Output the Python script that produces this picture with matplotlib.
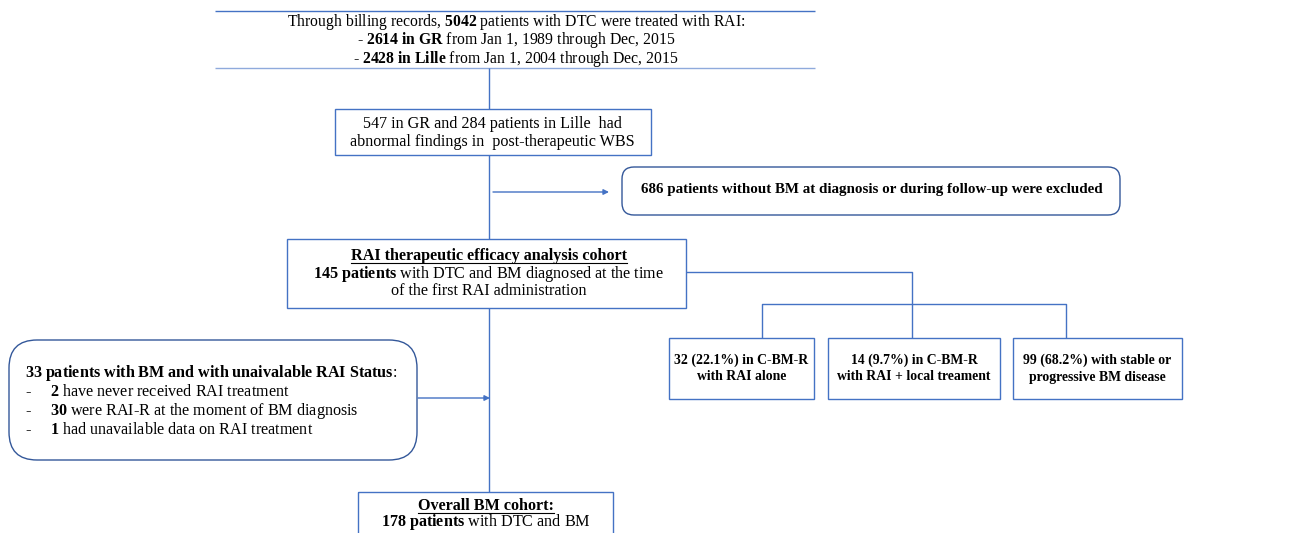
import matplotlib
matplotlib.use("Agg")
import matplotlib.pyplot as plt
from matplotlib.patches import Rectangle, FancyBboxPatch

plt.rcParams['font.family'] = ['Liberation Serif', 'DejaVu Serif']
plt.rcParams['mathtext.fontset'] = 'custom'
plt.rcParams['mathtext.rm'] = 'Liberation Serif'
plt.rcParams['mathtext.bf'] = 'Liberation Serif:bold'
plt.rcParams['mathtext.it'] = 'Liberation Serif:italic'

# flowchart content
total_patients = 5042
gr_patients = 2614
lille_patients = 2428
wbs_gr = 547
wbs_lille = 284
excluded = 686
rai_cohort = 145
unavailable = 33
unavailable_items = [2, 30, 1]
overall_cohort = 178
outcome_counts = [32, 14, 99]
outcome_pcts = [22.1, 9.7, 68.2]

top_lines = [
    rf"Through billing records, $\mathbf{{{total_patients}}}$ patients with DTC were treated with RAI:",
    rf"- $\mathbf{{{gr_patients}\ in\ GR}}$ from Jan 1, 1989 through Dec, 2015",
    rf"- $\mathbf{{{lille_patients}\ in\ Lille}}$ from Jan 1, 2004 through Dec, 2015",
]
wbs_lines = [
    f"{wbs_gr} in GR and {wbs_lille} patients in Lille  had",
    "abnormal findings in  post-therapeutic WBS",
]
excl_text = f"{excluded} patients without BM at diagnosis or during follow-up were excluded"
rai_lines = [
    "RAI therapeutic efficacy analysis cohort",
    rf"$\mathbf{{{rai_cohort}\ patients}}$ with DTC and BM diagnosed at the time",
    "of the first RAI administration",
]
unav_title = rf"$\mathbf{{{unavailable}\ patients\ with\ BM\ and\ with\ unaivalable\ RAI\ Status}}$:"
unav_items = [
    "have never received RAI treatment",
    "were RAI-R at the moment of BM diagnosis",
    "had unavailable data on RAI treatment",
]
outcome_labels = [
    "in C-BM-R\nwith RAI alone",
    "in C-BM-R\nwith RAI + local treament",
    "with stable or\nprogressive BM disease",
]
overall_lines = [
    "Overall BM cohort:",
    rf"$\mathbf{{{overall_cohort}\ patients}}$ with DTC and BM",
]

BLUE = '#4472C4'
LIGHT = '#8FAADC'
NAVY = '#34589A'
FS = 11.6

fig = plt.figure(figsize=(13.09, 5.33), dpi=100)
ax = fig.add_axes([0, 0, 1, 1])
ax.set_xlim(0, 1309)
ax.set_ylim(533, 0)
ax.axis('off')


def box(x0, y0, x1, y1, ec=BLUE, lw=1.0):
    ax.add_patch(Rectangle((x0, y0), x1 - x0, y1 - y0, fill=False, ec=ec, lw=lw))


def rbox(x0, y0, x1, y1, r, ec=NAVY):
    ax.add_patch(FancyBboxPatch((x0, y0), x1 - x0, y1 - y0,
                                boxstyle=f"round,pad=0,rounding_size={r}",
                                fill=False, ec=ec, lw=1.0))


def line(xs, ys, c=BLUE):
    ax.plot(xs, ys, color=c, lw=1.0, solid_capstyle='butt')


def arrow(x0, x1, y):
    ax.annotate('', xy=(x1, y), xytext=(x0, y),
                arrowprops=dict(arrowstyle='-|>', color=BLUE, lw=1.0,
                                mutation_scale=8, shrinkA=0, shrinkB=0))


# top box (only horizontal rules visible)
line([215, 815], [11, 11])
line([215, 815], [68, 68], c=LIGHT)
ax.text(516, 40.5, "\n".join(top_lines), ha='center', va='center',
        fontsize=11.3, linespacing=0.87)

# WBS box
box(335, 109, 651, 155)
for i, s in enumerate(wbs_lines):
    ax.text(492, 124 + i * 18, s, ha='center', va='center', fontsize=FS)

# excluded box
rbox(622, 167, 1120, 215, 12)
ax.text(872, 189, excl_text, ha='center', va='center', fontsize=10.8, fontweight='bold')

# RAI cohort box
box(287, 239, 686, 308)
texts_ul = []
for i, s in enumerate(rai_lines):
    t = ax.text(489, 256 + i * 17.5, s, ha='center', va='center', fontsize=FS,
                fontweight='bold' if i == 0 else 'normal')
    if i == 0:
        texts_ul.append(t)

# unavailable box
rbox(9, 340, 417, 460, 28)
ax.text(25, 373, unav_title, ha='left', va='center', fontsize=FS)
for i, (n, s) in enumerate(zip(unavailable_items, unav_items)):
    y = 392 + i * 19
    ax.text(25, y, "-", ha='left', va='center', fontsize=FS)
    ax.text(50, y, rf"$\mathbf{{{n}}}$ {s}", ha='left', va='center', fontsize=FS)

# overall cohort box (cut at bottom)
box(358, 492, 613, 600)
t = ax.text(486, 506, overall_lines[0], ha='center', va='center', fontsize=FS, fontweight='bold')
texts_ul.append(t)
ax.text(486, 522, overall_lines[1], ha='center', va='center', fontsize=FS)

# outcome boxes
out_x = [(669, 814), (828, 1000), (1013, 1182)]
for (x0, x1), n, p, lab in zip(out_x, outcome_counts, outcome_pcts, outcome_labels):
    box(x0, 338, x1, 399)
    l1, l2 = lab.split("\n")
    cx = (x0 + x1) / 2
    ax.text(cx, 360, f"{n} ({p}%) {l1}", ha='center', va='center', fontsize=9.9, fontweight='bold')
    ax.text(cx, 377, l2, ha='center', va='center', fontsize=9.9, fontweight='bold')

# connectors
line([489, 489], [68, 109])
line([489, 489], [155, 239])
arrow(493, 609, 192)
line([489, 489], [308, 492])
arrow(418, 490, 398)
line([686, 912, 912], [272, 272, 338])
line([762, 762, 1066, 1066], [338, 304, 304, 338])

# underlines
fig.canvas.draw()
inv = ax.transData.inverted()
for t in texts_ul:
    bb = t.get_window_extent()
    (xa, ya), (xb, yb) = inv.transform([(bb.x0, bb.y0), (bb.x1, bb.y1)])
    ax.plot([xa, xb], [ya - 1, ya - 1], color='black', lw=0.8)

fig.savefig("out.png", dpi=100)
